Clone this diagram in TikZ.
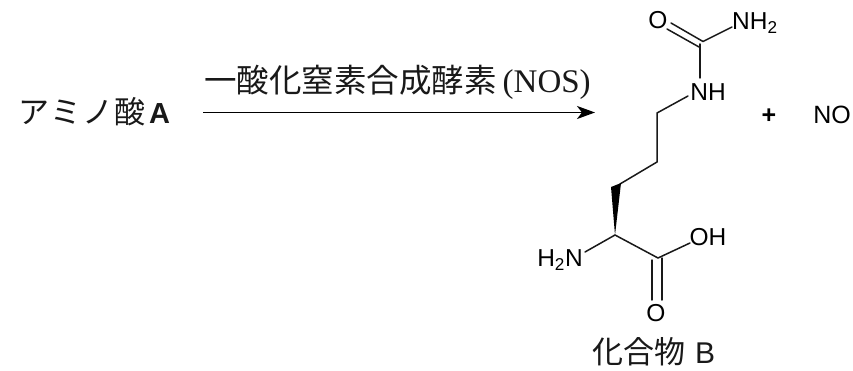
\documentclass[tikz,border=0pt]{standalone}
\usepackage{fontspec}
\setmainfont{Liberation Sans}
\newfontfamily\cjk{Noto Sans CJK JP}
\newfontfamily\serifl{Liberation Serif}
\newfontfamily\sansb{Liberation Sans Bold}
\usetikzlibrary{arrows.meta}
\tikzset{
  atom/.style={inner sep=0pt,font=\fontsize{24.5}{24.5}\selectfont,text=black},
  bond/.style={line width=1.5pt,black!90,line cap=round},
  captext/.style={inner sep=0pt,anchor=west,text=black!90}
}
\begin{document}
\begin{tikzpicture}[x=1pt,y=-1pt]
\useasboundingbox (0,0) rectangle (853,371);
% text nodes
\node[captext] (amino) at (18,112) {\cjk\fontsize{31}{31}\selectfont ア\hspace{1pt}ミ\hspace{1pt}ノ\hspace{1pt}酸\hspace{4pt}\sansb\fontsize{29}{29}\selectfont A};
\node[captext] (nos) at (204,82) {\cjk\fontsize{32.5}{32.5}\selectfont 一酸化窒素合成酵素\hspace{6pt}\serifl\fontsize{33}{33}\selectfont (NOS)};
\node[atom] (O1) at (658,20) {O};
\node[atom,anchor=west] (NH2) at (732,23) {NH\textsubscript{2}};
\node[atom] (NH) at (708,92) {NH};
\node[atom,font=\fontsize{25}{25}\selectfont\bfseries] (plus) at (769,116) {+};
\node[atom,font=\fontsize{25}{25}\selectfont] (NO) at (832,115) {NO};
\node[atom] (OH) at (708,237) {OH};
\node[atom] (H2N) at (560,260) {H\textsubscript{2}N};
\node[atom] (O2) at (656,313) {O};
\node[captext] (B) at (592,352) {\cjk\fontsize{31}{31}\selectfont 化合物\hspace{10pt}\fontspec{Liberation Sans}\fontsize{30}{30}\selectfont B};
% skeleton points
\coordinate (Cu) at (700,44);
\coordinate (Cua) at (703,41.5);
\coordinate (Cub) at (699,47);
\coordinate (C1) at (657,113);
\coordinate (C2) at (657,162);
\coordinate (C3) at (620,184);
\coordinate (Ca) at (615,235);
\coordinate (Cc) at (658,258);
\coordinate (O1a) at (671,23);
\coordinate (O1b) at (667,29);
\coordinate (arrowstart) at (203,112.5);
\coordinate (arrowend) at (595,112.5);
% arrow
\draw[line width=1.9pt,black,-{Stealth[length=18pt,width=13pt,inset=5pt]}] (arrowstart) -- (arrowend);
% bonds
\draw[bond] (O1a) -- (Cua);
\draw[bond] (O1b) -- (Cub);
\draw[bond] (Cua) -- (732,27);
\draw[bond] (Cu) -- (700,78);
\draw[bond] (688,96) -- (C1) -- (C2) -- (C3);
\fill[black] (Ca) -- (611,187) -- (621,183) -- cycle;
\draw[bond] (585,252) -- (Ca) -- (Cc) -- (690,243);
\draw[bond] (652,260) -- (652,300);
\draw[bond] (662,258) -- (662,300);
\end{tikzpicture}
\end{document}
